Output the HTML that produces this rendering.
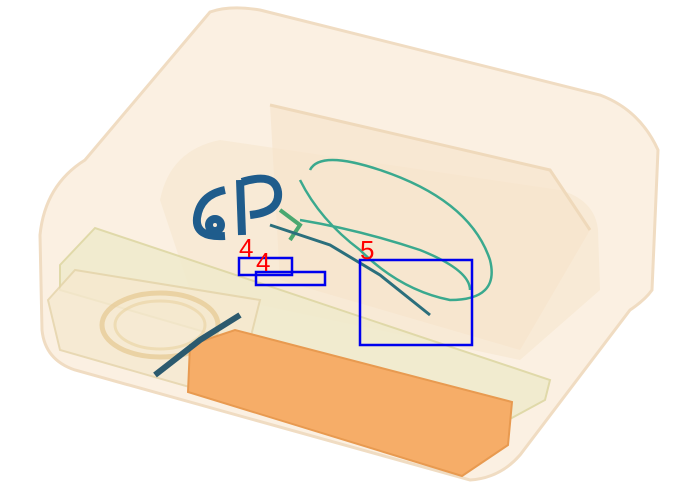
<!DOCTYPE html>
<html><head><meta charset="utf-8">
<style>
html,body{margin:0;padding:0;background:#fff;width:682px;height:497px;overflow:hidden}
svg{display:block}
</style></head>
<body>
<svg id="scene" width="682" height="497" viewBox="0 0 682 497" xmlns="http://www.w3.org/2000/svg">
  <rect width="682" height="497" fill="#ffffff"/>
  <g>
    <path d="M40,235 Q45,185 85,160 L210,12 Q230,5 260,10 L600,95 Q640,110 658,150 L652,290 Q645,300 630,310 L520,455 Q500,478 470,480 L75,370 Q45,360 42,330 Z" fill="#fbf0e2" stroke="#f0dcc2" stroke-width="3"/>
    <path d="M160,200 Q170,150 220,140 L560,190 Q595,200 598,230 L600,290 L520,360 L190,290 Z" fill="#f8e8d3" opacity="0.8"/>
    <path d="M270,105 L550,170 L590,230 L520,350 L280,280 Z" fill="#f6e2c9" opacity="0.6"/>
    <path d="M270,105 L550,170 L590,230" fill="none" stroke="#efd9bb" stroke-width="3"/>
    <path d="M60,265 L95,228 L550,380 L545,400 L508,420 L60,290 Z" fill="#f0ebcc" stroke="#dcd6a0" stroke-width="2" opacity="0.85"/>
    <path d="M48,300 L75,270 L260,300 L250,340 L200,390 L60,350 Z" fill="#f6e9d0" stroke="#e4d3a8" stroke-width="2" opacity="0.8"/>
    <ellipse cx="160" cy="325" rx="58" ry="32" fill="none" stroke="#e6c890" stroke-width="5" opacity="0.7"/>
    <ellipse cx="160" cy="325" rx="45" ry="24" fill="none" stroke="#ead2a0" stroke-width="3" opacity="0.6"/>
  </g>
  <path d="M190,345 L235,330 L512,402 L508,445 L462,476 L188,392 Z" fill="#f6ad68" stroke="#e89a50" stroke-width="2"/>
  <g fill="none" stroke="#1f5c8c" stroke-width="8">
    <path d="M225,190 Q200,195 197,218 Q195,238 225,236"/>
    <path d="M242,182 Q275,172 278,192 Q280,212 250,215"/>
    <path d="M240,180 L242,235"/>
    <circle cx="215" cy="225" r="6"/>
  </g>
  <g fill="none" stroke="#3aa98e" stroke-width="2.5">
    <path d="M310,170 Q320,150 380,170 Q470,200 490,260 Q500,300 450,300 Q400,290 360,250 Q320,220 300,180"/>
    <path d="M300,220 Q360,230 420,250 Q470,270 470,290"/>
    <path d="M280,210 L300,225 L290,240" stroke="#4aa870" stroke-width="4"/>
    <path d="M270,225 L330,245 L380,275 L430,315" stroke="#2b6f7c" stroke-width="3"/>
  </g>
  <path d="M155,375 L200,340 L240,315" fill="none" stroke="#2c5a6e" stroke-width="6"/>
  <g id="boxes"></g>
</svg>
<script>
const boxLabels = ["4","4","5"];
const boxX0 = [239,256,360];
const boxY0 = [258,272,260];
const boxX1 = [292,325,472];
const boxY1 = [275,285,345];
const g = document.getElementById('boxes');
const ns = 'http://www.w3.org/2000/svg';
for (let i = 0; i < boxLabels.length; i++) {
  const r = document.createElementNS(ns, 'rect');
  r.setAttribute('x', boxX0[i]); r.setAttribute('y', boxY0[i]);
  r.setAttribute('width', boxX1[i] - boxX0[i]); r.setAttribute('height', boxY1[i] - boxY0[i]);
  r.setAttribute('fill', 'none'); r.setAttribute('stroke', '#0000ee'); r.setAttribute('stroke-width', '2.5');
  
  
  g.appendChild(r);
  const t = document.createElementNS(ns, 'text');
  t.setAttribute('x', boxX0[i]); t.setAttribute('y', boxY0[i] - 1);
  t.setAttribute('fill', '#ff0000'); t.setAttribute('font-size', '26');
  t.setAttribute('font-family', 'Liberation Sans, sans-serif');
  t.textContent = boxLabels[i];
  
  
  g.appendChild(t);
}
</script>
</body></html>
